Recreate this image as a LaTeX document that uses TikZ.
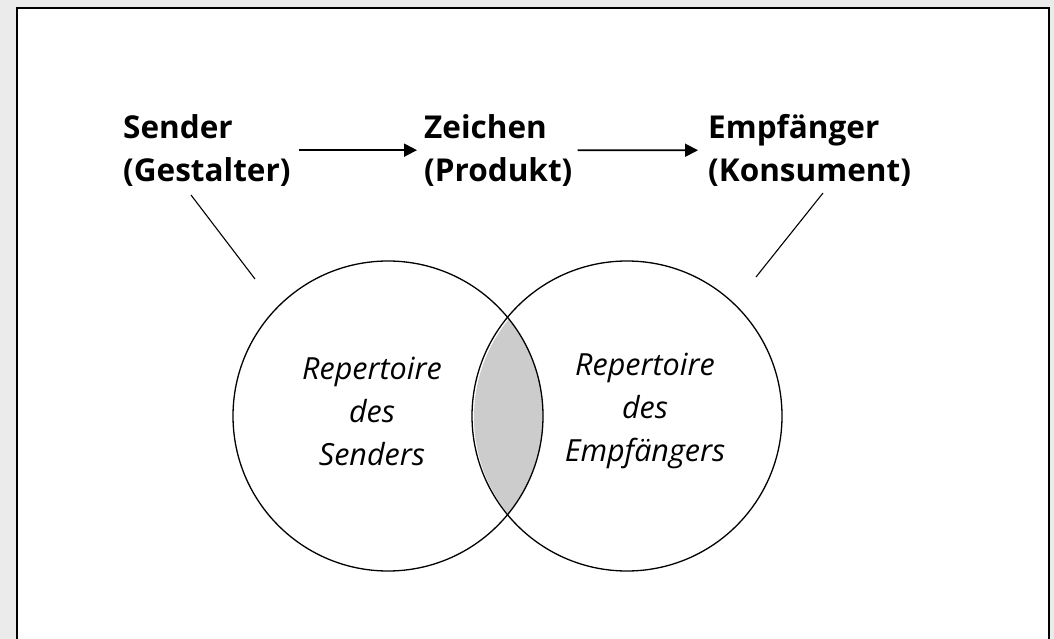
\documentclass[tikz,border=0pt]{standalone}
\usepackage{fontspec}
\setmainfont{Open Sans}
\usetikzlibrary{arrows.meta}
\definecolor{pagegrey}{HTML}{EBEBEB}
\definecolor{lensgrey}{HTML}{CCCCCC}
\begin{document}
\begin{tikzpicture}[x=1pt,y=-1pt,
  role/.style={inner sep=0pt, align=left, anchor=north west,
    font=\fontsize{31.5}{43}\selectfont\bfseries},
  repert/.style={inner sep=0pt, align=center,
    font=\fontsize{30.5}{43}\selectfont\itshape},
  flow/.style={line width=1.8pt, -{Triangle[length=13pt,width=13pt]}},
  link/.style={line width=1.1pt},
  ring/.style={line width=1.3pt}]
  \useasboundingbox (0,0) rectangle (1054,639);
  \fill[pagegrey] (0,0) rectangle (1054,639);
  \begin{scope}
    \clip (0,0) rectangle (1054,639);
    \filldraw[fill=white, line width=2pt] (17,8) rectangle (1049,660);
  \end{scope}

  % labels of the communication chain
  \node[role] (sender) at (123,114) {Sender\\(Gestalter)};
  \node[role] (zeichen) at (424,114) {Zeichen\\(Produkt)};
  \node[role] (empf) at (708,114) {Empfänger\\(Konsument)};

  \draw[flow] ([xshift=8pt]sender.east) -- ([xshift=-7pt]zeichen.west);
  \draw[flow] ([xshift=5pt]zeichen.east) -- ([xshift=-10pt]empf.west);

  % repertoires
  \coordinate (cl) at (388,416);
  \coordinate (cr) at (627,416);
  \begin{scope}
    \clip (cl) circle (155);
    \fill[lensgrey] ([shift={(2,1)}]cr) circle (155);
  \end{scope}
  \draw[ring] (cl) circle (155);
  \draw[ring] (cr) circle (155);

  \node[repert] (rs) at (372,411) {Repertoire\\des\\Senders};
  \node[repert] (re) at (645,411) {Repertoire\\des\\Empfängers};

  % leader lines from the labels to the circles
  \coordinate (s1) at (191,195);
  \coordinate (s2) at (255,279);
  \coordinate (e1) at (823,193);
  \coordinate (e2) at (756,277);
  \draw[link] (s1) -- (s2);
  \draw[link] (e1) -- (e2);
\end{tikzpicture}
\end{document}
